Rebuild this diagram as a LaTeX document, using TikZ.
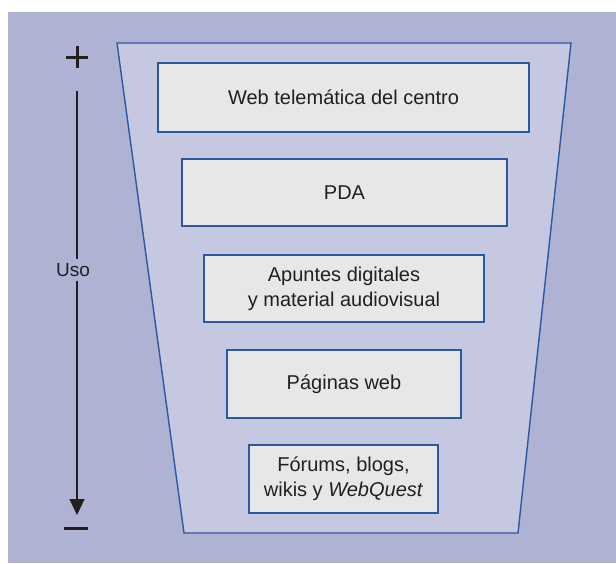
\documentclass[tikz,border=0pt]{standalone}
\usepackage{fontspec}
\setmainfont{Liberation Sans}
\usetikzlibrary{arrows.meta}
\definecolor{bgc}{HTML}{AEB2D3}
\definecolor{trapc}{HTML}{C5C8E0}
\definecolor{boxc}{HTML}{E6E7E9}
\definecolor{edgec}{HTML}{2C58A0}
\definecolor{inkc}{HTML}{231F20}
\begin{document}
\begin{tikzpicture}[x=1pt,y=-1pt,
  itembox/.style={draw=edgec,line width=1.4pt,fill=boxc,inner sep=0pt,align=center,
    font=\fontsize{20}{25}\selectfont,text=inkc},
  lbl/.style={font=\fontsize{19}{24}\selectfont,text=inkc,inner sep=4pt}]
\useasboundingbox (0,0) rectangle (616,563);
\fill[bgc] (8,12) rectangle (616,563);
\draw[edgec,fill=trapc,line width=1.4pt,line join=miter] (117,43) -- (571,43) -- (518,533) -- (184,533) -- cycle;
\node[itembox,minimum width=371pt,minimum height=69pt] (b1) at (343.5,97.5) {Web telemática del centro};
\node[itembox,minimum width=325pt,minimum height=67pt] (b2) at (344.5,192.5) {PDA};
\node[itembox,minimum width=280pt,minimum height=67pt] (b3) at (344,288.5) {Apuntes digitales\\y material audiovisual};
\node[itembox,minimum width=234pt,minimum height=68pt] (b4) at (344,384) {Páginas web};
\node[itembox,minimum width=189pt,minimum height=68pt] (b5) at (343.5,479) {Fórums, blogs,\\wikis y \textit{WebQuest}};
\node[lbl] (uso) at (73,270) {Uso};
\coordinate (top) at (77,91);
\coordinate (tip) at (77,515);
\draw[inkc,line width=1.2pt] (top) -- (top |- uso.north);
\draw[inkc,line width=1.2pt,-{Triangle[length=16pt,width=15pt]}] (top |- uso.south) -- (tip);
\node[inner sep=0pt] (plus) at (77,57) {};
\draw[inkc,line width=3pt] (66,57) -- (88,57) (77,46) -- (77,68);
\node[inner sep=0pt] (minus) at (76,528) {};
\draw[inkc,line width=3pt] (64,528) -- (88,528);
\end{tikzpicture}
\end{document}
